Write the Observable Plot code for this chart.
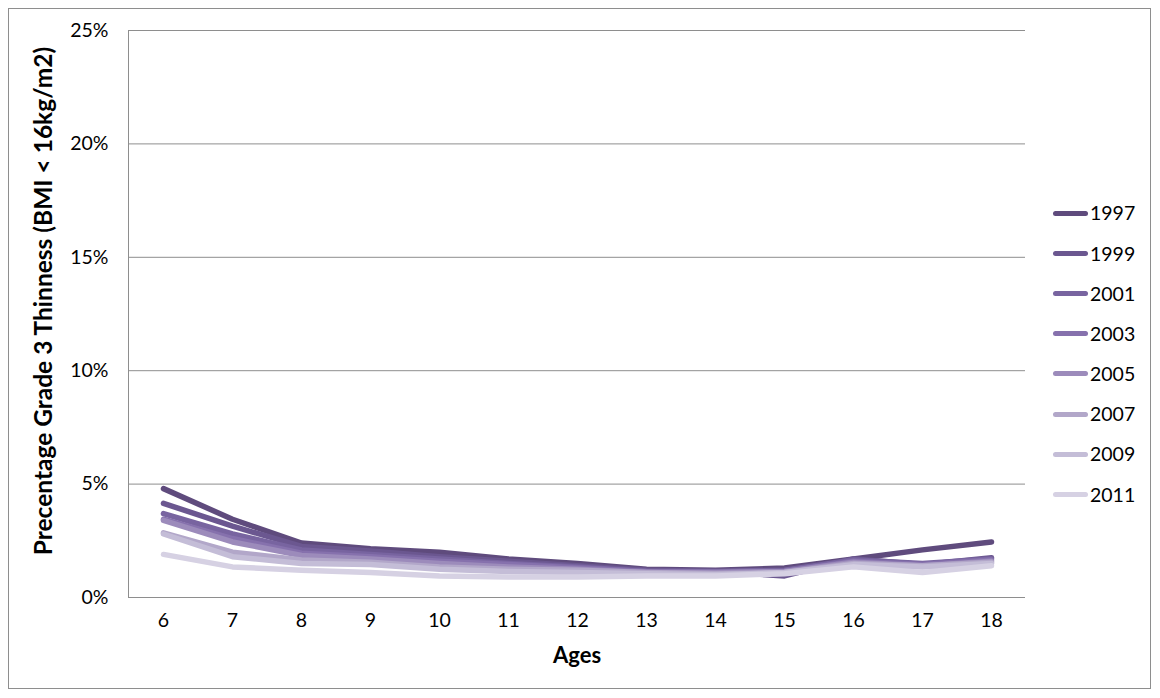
<!DOCTYPE html>
<html>
<head>
<meta charset="utf-8">
<script src="https://cdn.jsdelivr.net/npm/d3@7"></script>
<script src="https://cdn.jsdelivr.net/npm/@observablehq/plot@0.6"></script>
<style>
  html, body { margin: 0; padding: 0; background: #fff; }
  #wrap { position: relative; width: 1160px; height: 698px; font-family: Lato, "Open Sans", sans-serif; }
  #border { position: absolute; left: 8px; top: 8px; width: 1143px; height: 681px; border: 1px solid #8e8e8e; box-sizing: border-box; }
  #chart { position: absolute; left: 0; top: 0; }
  #legend { position: absolute; left: 1053px; top: 193px; }
  .item { display: flex; align-items: center; height: 40.2px; }
  .swatch { width: 35px; height: 5px; border-radius: 3px; margin-right: 2px; }
  .lab { font-size: 19.5px; color: #000; line-height: 1; }
</style>
</head>
<body>
<div id="wrap">
  <div id="border"></div>
  <div id="chart"></div>
  <div id="legend"></div>
</div>
<script>
const ages = [6, 7, 8, 9, 10, 11, 12, 13, 14, 15, 16, 17, 18];
const years = ["1997", "1999", "2001", "2003", "2005", "2007", "2009", "2011"];
const colors = ["#5f4b7d", "#6b5790", "#7864a0", "#8671ad", "#9c8bbb", "#b2a7c9", "#c4bdd7", "#d6d1e3"];
const yTicks = [0, 5, 10, 15, 20, 25];
const s1997 = [4.8, 3.45, 2.4, 2.15, 2.0, 1.7, 1.5, 1.25, 1.2, 1.3, 1.7, 2.1, 2.45];
const s1999 = [4.15, 3.15, 2.25, 2.05, 1.8, 1.6, 1.4, 1.2, 1.15, 0.95, 1.7, 1.45, 1.75];
const s2001 = [3.7, 2.8, 2.1, 1.9, 1.7, 1.5, 1.35, 1.15, 1.15, 1.2, 1.65, 1.5, 1.7];
const s2003 = [3.45, 2.6, 1.95, 1.8, 1.6, 1.45, 1.3, 1.15, 1.1, 1.15, 1.6, 1.45, 1.65];
const s2005 = [3.4, 2.45, 1.85, 1.7, 1.5, 1.35, 1.25, 1.1, 1.1, 1.15, 1.55, 1.4, 1.6];
const s2007 = [2.85, 2.0, 1.65, 1.55, 1.35, 1.25, 1.2, 1.1, 1.05, 1.1, 1.5, 1.4, 1.55];
const s2009 = [2.8, 1.8, 1.5, 1.45, 1.25, 1.15, 1.1, 1.05, 1.0, 1.1, 1.45, 1.35, 1.5];
const s2011 = [1.9, 1.35, 1.2, 1.1, 0.95, 0.9, 0.9, 0.95, 0.95, 1.05, 1.35, 1.1, 1.4];
const yLabel = "Precentage Grade 3 Thinness (BMI < 16kg/m2)";
const xLabel = "Ages";

const series = [s1997, s1999, s2001, s2003, s2005, s2007, s2009, s2011];
const rows = [];
series.forEach((s, i) => s.forEach((v, j) => rows.push({year: years[i], age: ages[j], value: v})));

const grid = "#8e8e8e";
const chart = Plot.plot({
  width: 1160,
  height: 698,
  marginLeft: 128,
  marginRight: 135,
  marginTop: 30,
  marginBottom: 101,
  style: {fontFamily: "Lato, 'Open Sans', sans-serif", fontSize: "19.5px", background: "transparent", color: "#000"},
  x: {type: "point", domain: ages, padding: 0.5},
  y: {domain: [0, 25]},
  color: {domain: years, range: colors},
  marks: [
    Plot.ruleY(yTicks, {stroke: grid, strokeWidth: 1}),
    Plot.frame({anchor: "left", stroke: grid}),
    Plot.axisX({tickSize: 0, tickPadding: 16, label: null}),
    Plot.axisY({ticks: yTicks, tickSize: 0, tickPadding: 20, tickFormat: d => d + "%", label: null}),
    Plot.line(rows, {x: "age", y: "value", z: "year", stroke: "year", strokeWidth: 5.5, strokeLinecap: "round", strokeLinejoin: "round"}),
    Plot.text([yLabel], {frameAnchor: "left", textAnchor: "middle", dx: -84, dy: -13, rotate: -90, fontWeight: "bold", fontSize: 24.5}),
    Plot.text([xLabel], {frameAnchor: "bottom", dy: 65, fontWeight: "bold", fontSize: 22})
  ]
});
document.getElementById("chart").appendChild(chart);

const legend = document.getElementById("legend");
years.forEach((y, i) => {
  const it = document.createElement("div");
  it.className = "item";
  it.innerHTML = `<div class="swatch" style="background:${colors[i]}"></div><span class="lab">${y}</span>`;
  legend.appendChild(it);
});
</script>
</body>
</html>
